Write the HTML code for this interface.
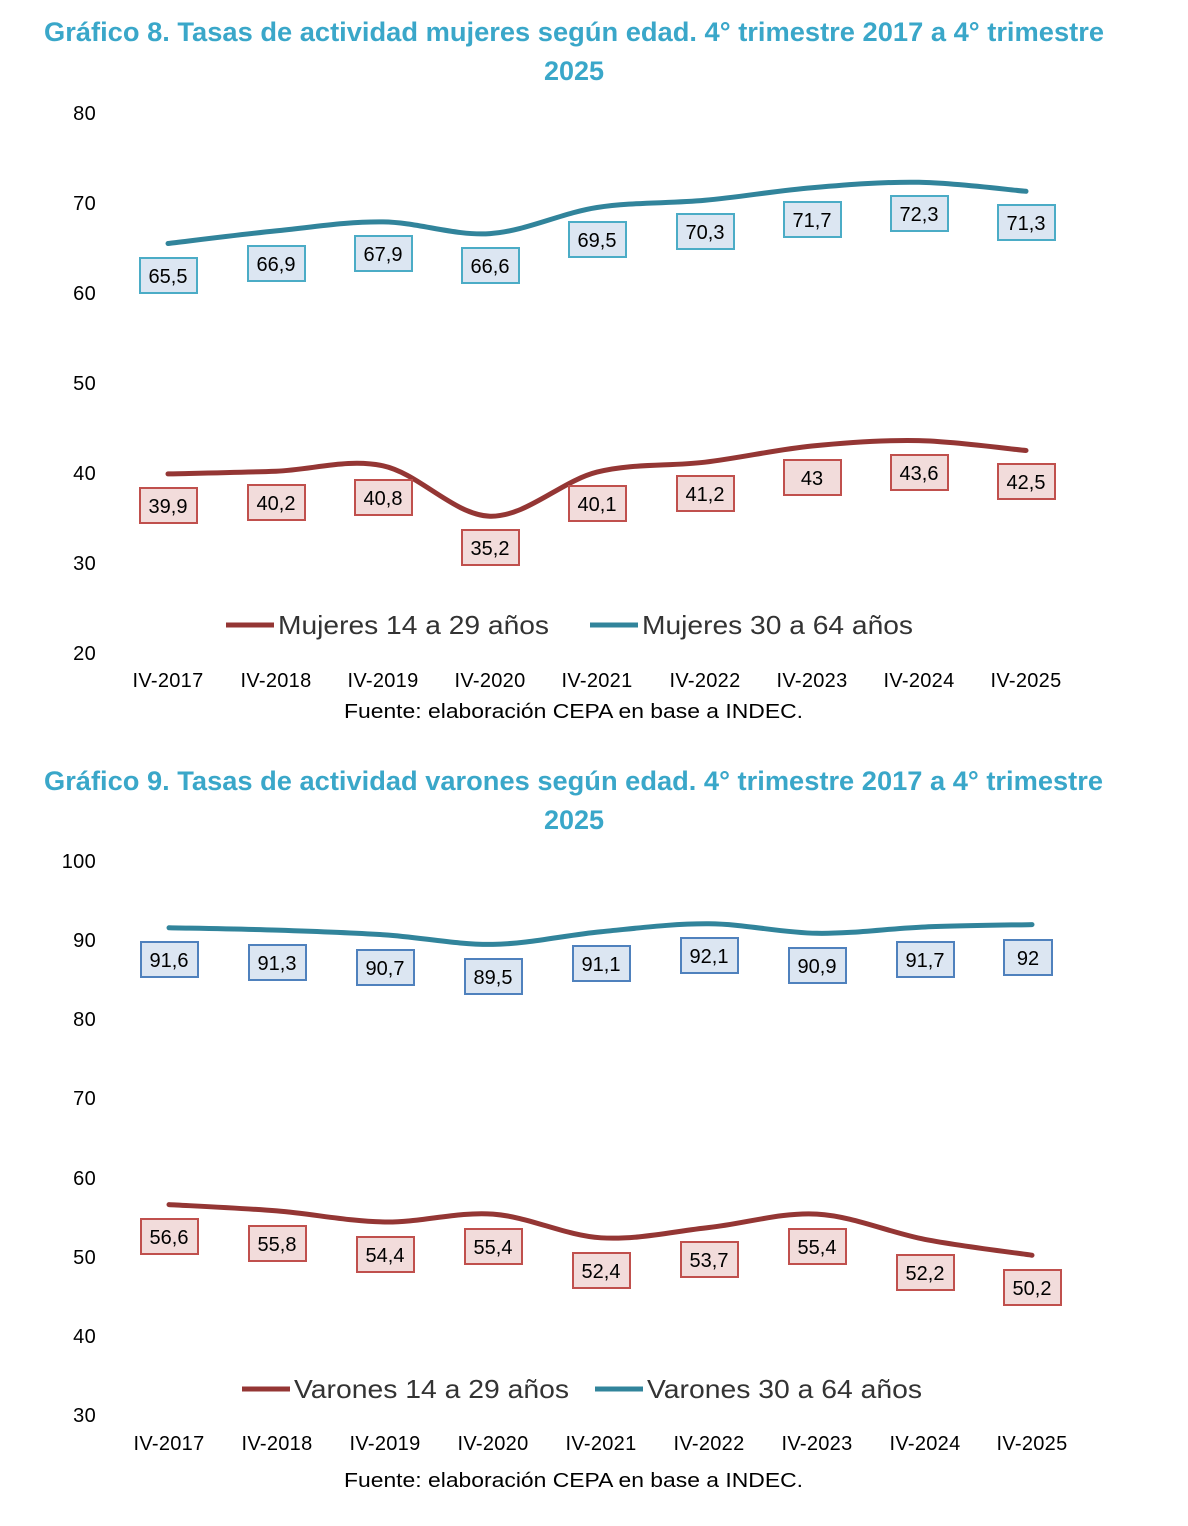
<!DOCTYPE html>
<html><head><meta charset="utf-8">
<style>
html,body{margin:0;padding:0;background:#fff;}
svg text{font-family:"Liberation Sans",sans-serif;}
.t{fill:#3aa7c9;font-weight:bold;font-size:27px;}
.ax{font-size:20px;fill:#000;letter-spacing:0.3px;}
.lb{font-size:20px;fill:#000;}
.lg{font-size:26px;fill:#333;}
.fu{font-size:20px;fill:#000;}
</style></head><body>
<svg id="s" width="1188" height="1521" viewBox="0 0 1188 1521" xmlns="http://www.w3.org/2000/svg">
<rect width="1188" height="1521" fill="#fff"/>
<text x="44" y="41" class="t" textLength="1060" lengthAdjust="spacingAndGlyphs">Gráfico 8. Tasas de actividad mujeres según edad. 4° trimestre 2017 a 4° trimestre</text>
<text x="574" y="80" text-anchor="middle" class="t">2025</text>
<g class="ax" text-anchor="end">
<text x="96" y="120">80</text><text x="96" y="210">70</text><text x="96" y="300">60</text><text x="96" y="390">50</text><text x="96" y="480">40</text><text x="96" y="570">30</text><text x="96" y="660">20</text>
</g>
<g class="ax" text-anchor="middle">
<text x="168" y="687">IV-2017</text><text x="276" y="687">IV-2018</text><text x="383" y="687">IV-2019</text><text x="490" y="687">IV-2020</text><text x="597" y="687">IV-2021</text><text x="705" y="687">IV-2022</text><text x="812" y="687">IV-2023</text><text x="919" y="687">IV-2024</text><text x="1026" y="687">IV-2025</text>
</g>
<text x="344" y="718" class="fu" textLength="459" lengthAdjust="spacingAndGlyphs">Fuente: elaboración CEPA en base a INDEC.</text>
<g id="c1"></g>
<line x1="226" y1="625" x2="274" y2="625" stroke="#943634" stroke-width="5"/>
<text x="278" y="634" class="lg" textLength="271" lengthAdjust="spacingAndGlyphs">Mujeres 14 a 29 años</text>
<line x1="590" y1="625" x2="638" y2="625" stroke="#31849b" stroke-width="5"/>
<text x="642" y="634" class="lg" textLength="271" lengthAdjust="spacingAndGlyphs">Mujeres 30 a 64 años</text>

<text x="44" y="790" class="t" textLength="1059" lengthAdjust="spacingAndGlyphs">Gráfico 9. Tasas de actividad varones según edad. 4° trimestre 2017 a 4° trimestre</text>
<text x="574" y="829" text-anchor="middle" class="t">2025</text>
<g class="ax" text-anchor="end">
<text x="96" y="868">100</text><text x="96" y="947">90</text><text x="96" y="1026">80</text><text x="96" y="1105">70</text><text x="96" y="1185">60</text><text x="96" y="1264">50</text><text x="96" y="1343">40</text><text x="96" y="1422">30</text>
</g>
<g class="ax" text-anchor="middle">
<text x="169" y="1450">IV-2017</text><text x="277" y="1450">IV-2018</text><text x="385" y="1450">IV-2019</text><text x="493" y="1450">IV-2020</text><text x="601" y="1450">IV-2021</text><text x="709" y="1450">IV-2022</text><text x="817" y="1450">IV-2023</text><text x="925" y="1450">IV-2024</text><text x="1032" y="1450">IV-2025</text>
</g>
<text x="344" y="1487" class="fu" textLength="459" lengthAdjust="spacingAndGlyphs">Fuente: elaboración CEPA en base a INDEC.</text>
<g id="c2"></g>
<line x1="242" y1="1389" x2="290" y2="1389" stroke="#943634" stroke-width="5"/>
<text x="294" y="1398" class="lg" textLength="275" lengthAdjust="spacingAndGlyphs">Varones 14 a 29 años</text>
<line x1="595" y1="1389" x2="643" y2="1389" stroke="#31849b" stroke-width="5"/>
<text x="647" y="1398" class="lg" textLength="275" lengthAdjust="spacingAndGlyphs">Varones 30 a 64 años</text>

<g fill="#dce6f2" stroke="#4bacc6" stroke-width="2">
<rect x="140" y="258" width="57" height="35"/><rect x="248" y="246" width="57" height="35"/><rect x="355" y="236" width="57" height="35"/><rect x="462" y="248" width="57" height="35"/><rect x="569" y="222" width="57" height="35"/><rect x="677" y="214" width="57" height="35"/><rect x="784" y="202" width="57" height="35"/><rect x="891" y="196" width="57" height="35"/><rect x="998" y="205" width="57" height="35"/>
</g>
<g fill="#f2dcdb" stroke="#c0504d" stroke-width="2">
<rect x="140" y="488" width="57" height="35"/><rect x="248" y="485" width="57" height="35"/><rect x="355" y="480" width="57" height="35"/><rect x="462" y="530" width="57" height="35"/><rect x="569" y="486" width="57" height="35"/><rect x="677" y="476" width="57" height="35"/><rect x="784" y="460" width="57" height="35"/><rect x="891" y="455" width="57" height="35"/><rect x="998" y="464" width="57" height="35"/>
</g>
<g class="lb" text-anchor="middle">
<text x="168" y="283">65,5</text><text x="276" y="271">66,9</text><text x="383" y="261">67,9</text><text x="490" y="273">66,6</text><text x="597" y="247">69,5</text><text x="705" y="239">70,3</text><text x="812" y="227">71,7</text><text x="919" y="221">72,3</text><text x="1026" y="230">71,3</text>
<text x="168" y="513">39,9</text><text x="276" y="510">40,2</text><text x="383" y="505">40,8</text><text x="490" y="555">35,2</text><text x="597" y="511">40,1</text><text x="705" y="501">41,2</text><text x="812" y="485">43</text><text x="919" y="480">43,6</text><text x="1026" y="489">42,5</text>
</g>

<g fill="#dce6f2" stroke="#4f81bd" stroke-width="2">
<rect x="141" y="942" width="57" height="35"/><rect x="249" y="945" width="57" height="35"/><rect x="357" y="950" width="57" height="35"/><rect x="465" y="959" width="57" height="35"/><rect x="573" y="946" width="57" height="35"/><rect x="681" y="938" width="57" height="35"/><rect x="789" y="948" width="57" height="35"/><rect x="897" y="942" width="57" height="35"/><rect x="1004" y="940" width="48" height="35"/>
</g>
<g fill="#f2dcdb" stroke="#c0504d" stroke-width="2">
<rect x="141" y="1219" width="57" height="35"/><rect x="249" y="1226" width="57" height="35"/><rect x="357" y="1237" width="57" height="35"/><rect x="465" y="1229" width="57" height="35"/><rect x="573" y="1253" width="57" height="35"/><rect x="681" y="1242" width="57" height="35"/><rect x="789" y="1229" width="57" height="35"/><rect x="897" y="1255" width="57" height="35"/><rect x="1004" y="1270" width="57" height="35"/>
</g>
<g class="lb" text-anchor="middle">
<text x="169" y="967">91,6</text><text x="277" y="970">91,3</text><text x="385" y="975">90,7</text><text x="493" y="984">89,5</text><text x="601" y="971">91,1</text><text x="709" y="963">92,1</text><text x="817" y="973">90,9</text><text x="925" y="967">91,7</text><text x="1028" y="965">92</text>
<text x="169" y="1244">56,6</text><text x="277" y="1251">55,8</text><text x="385" y="1262">54,4</text><text x="493" y="1254">55,4</text><text x="601" y="1278">52,4</text><text x="709" y="1267">53,7</text><text x="817" y="1254">55,4</text><text x="925" y="1280">52,2</text><text x="1032" y="1295">50,2</text>
</g>
</svg>
<script>
function path(xs,ys){
  var p=[];for(var i=0;i<xs.length;i++)p.push([xs[i],ys[i]]);
  var d="M"+p[0][0]+","+p[0][1];
  for(var i=0;i<p.length-1;i++){
    var p0=p[i-1]||p[i],p1=p[i],p2=p[i+1],p3=p[i+2]||p2;
    var c1x=p1[0]+(p2[0]-p0[0])/6,c1y=p1[1]+(p2[1]-p0[1])/6;
    var c2x=p2[0]-(p3[0]-p1[0])/6,c2y=p2[1]-(p3[1]-p1[1])/6;
    d+=" C"+c1x+","+c1y+" "+c2x+","+c2y+" "+p2[0]+","+p2[1];
  }
  return d;
}
function add(g,xs,vals,f,col){
  var ys=vals.map(f);
  var e=document.createElementNS("http://www.w3.org/2000/svg","path");
  e.setAttribute("d",path(xs,ys));e.setAttribute("fill","none");
  e.setAttribute("stroke",col);e.setAttribute("stroke-width","5");e.setAttribute("stroke-linecap","round");
  document.getElementById(g).appendChild(e);
}
var x1=[168,276,383,490,597,705,812,919,1026];
var f1=function(v){return 653-(v-20)*9;};
add("c1",x1,[65.5,66.9,67.9,66.6,69.5,70.3,71.7,72.3,71.3],f1,"#31849b");
add("c1",x1,[39.9,40.2,40.8,35.2,40.1,41.2,43,43.6,42.5],f1,"#943634");
var x2=[169,277,385,493,601,709,817,925,1032];
var f2=function(v){return 1415-(v-30)*7.91;};
add("c2",x2,[91.6,91.3,90.7,89.5,91.1,92.1,90.9,91.7,92],f2,"#31849b");
add("c2",x2,[56.6,55.8,54.4,55.4,52.4,53.7,55.4,52.2,50.2],f2,"#943634");
</script>
</body></html>
